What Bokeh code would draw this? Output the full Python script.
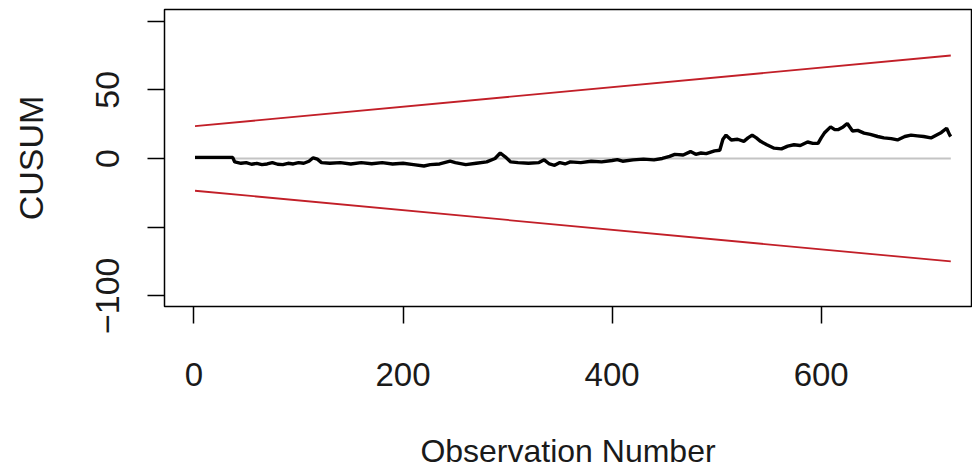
from bokeh.plotting import figure
from bokeh.models import FixedTicker, Range1d
from bokeh.embed import file_html
from bokeh.resources import INLINE

# CUSUM process (observation number, value)
obs = [1, 37, 39, 45, 50, 55, 60, 65, 70, 75, 80, 85, 90, 95, 100, 105, 110, 114, 118, 122,
       130, 140, 150, 160, 170, 180, 190, 200, 210, 220, 226, 235, 245, 250, 260, 270, 280,
       288, 293, 298, 303, 310, 320, 330, 335, 340, 345, 350, 355, 360, 370, 380, 390, 400,
       405, 410, 420, 430, 440, 448, 455, 460, 468, 475, 480, 485, 490, 498, 503, 506, 509,
       514, 520, 526, 530, 534, 538, 542, 548, 555, 562, 568, 574, 580, 587, 592, 597, 600,
       603, 609, 613, 616, 621, 625, 630, 635, 641, 647, 654, 660, 667, 673, 680, 686, 692,
       698, 705, 710, 715, 720, 723, 724]
cusum = [0.8, 0.8, -2.5, -3.5, -3, -4.2, -3.6, -4.5, -4, -3, -4.2, -4.5, -3.5, -4, -3, -3.5, -2, 0.5, -0.5, -3,
         -3.5, -3, -4, -3, -3.8, -3, -4, -3.5, -4.5, -5.5, -4.5, -4, -2, -3, -4.5, -3.5, -2.5,
         0, 4, 1, -2.5, -3, -3.5, -3, -1, -4, -5, -3, -4, -2.5, -3, -2, -2.5, -1.5,
         -0.8, -2, -1, -0.5, -1, 0, 1.5, 3, 2.5, 5, 3, 4, 3.5, 5.5, 6, 14, 17,
         13.5, 14, 12.5, 15, 17, 15, 12.5, 10, 7.5, 7, 9, 10, 9.5, 12, 11, 11, 15,
         18.5, 23, 21, 21, 23, 25.5, 20, 20.5, 18.5, 17.5, 16, 15, 14.5, 13.5, 16, 17, 16.5,
         16, 15, 17, 19, 22, 17, 16]

# boundary lines and reference line
bound_obs = [1, 724]
upper_bound = [23.5, 75]
lower_bound = [-23.5, -75]
zero_line = [0, 0]

x_ticks = [0, 200, 400, 600]
y_ticks = [-100, -50, 0, 50, 100]
y_hidden = {-50: "", 100: ""}

FONT = "Liberation Sans"
TXT = "#1a1a1a"

W, H = 972, 471
FL, FR, FT, FB = 164, 971, 9, 307          # frame edges in pixels
X0, X1 = -28.2, 743.8
Y0, Y1 = -107.8, 108.5

p = figure(width=W, height=H, output_backend="svg", toolbar_location=None,
           x_range=Range1d(X0, X1), y_range=Range1d(Y0, Y1),
           min_border_left=FL, min_border_right=W - FR, min_border_top=FT, min_border_bottom=H - FB)
p.grid.visible = False
p.outline_line_color = "black"
p.outline_line_width = 1.5
p.background_fill_color = "white"
p.border_fill_color = "white"

p.line(bound_obs, zero_line, line_color="#c4c4c4", line_width=2)
p.line(bound_obs, upper_bound, line_color="#c21f28", line_width=1.8)
p.line(bound_obs, lower_bound, line_color="#c21f28", line_width=1.8)
p.line(obs, cusum, line_color="black", line_width=3.4)

for ax in (p.xaxis[0], p.yaxis[0]):
    ax.axis_line_color = None
    ax.major_tick_line_color = "black"
    ax.major_tick_line_width = 1.5
    ax.major_tick_out = 17
    ax.major_tick_in = 0
    ax.minor_tick_line_color = None
    ax.major_label_text_font = FONT
    ax.major_label_text_color = TXT
    ax.axis_label_text_font = FONT
    ax.axis_label_text_font_style = "normal"
    ax.axis_label_text_color = TXT

p.xaxis.ticker = FixedTicker(ticks=x_ticks)
p.xaxis.major_label_text_font_size = "33px"
p.xaxis.major_label_standoff = 39
p.xaxis.axis_label = "Observation Number"
p.xaxis.axis_label_text_font_size = "32px"
p.xaxis.axis_label_standoff = 44

p.yaxis.ticker = FixedTicker(ticks=y_ticks)
p.yaxis.major_label_overrides = y_hidden
p.yaxis.major_label_orientation = "vertical"
p.yaxis.major_label_text_font_size = "34px"
p.yaxis.major_label_standoff = 28
p.yaxis.axis_label = "CUSUM"
p.yaxis.axis_label_text_font_size = "34px"
p.yaxis.axis_label_standoff = 44

open("out.html", "w").write(file_html(p, INLINE))
